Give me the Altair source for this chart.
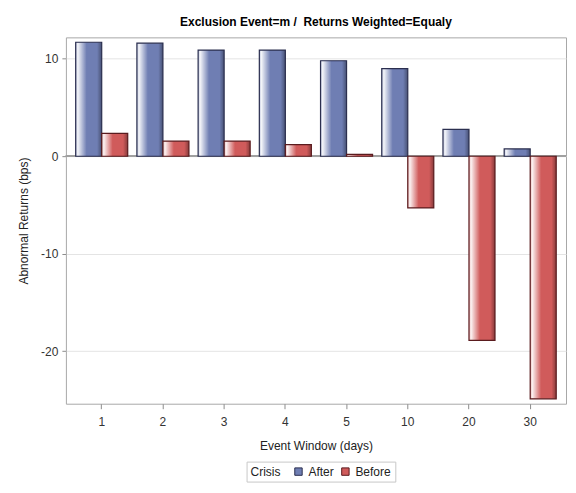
import altair as alt
import pandas as pd

janelas = ["1", "2", "3", "4", "5", "10", "20", "30"]
depois = [11.7, 11.6, 10.9, 10.9, 9.8, 9.0, 2.75, 0.75]
antes = [2.35, 1.55, 1.55, 1.2, 0.2, -5.3, -18.9, -24.9]
crises = ["After", "Before"]
cores = ["#6F7EB3", "#D05B5B"]
bordas = ["#2B2F4F", "#5A1B1E"]

df = pd.DataFrame({
    "Janela": janelas * 2,
    "Crisis": ["After"] * len(janelas) + ["Before"] * len(janelas),
    "Retorno": depois + antes,
})

fonte = "Liberation Sans"
largura, altura = 501, 367

# brilho branco a esquerda e sombra a direita, por cima da cor de cada barra
brilho = alt.Gradient(
    gradient="linear", x1=0, x2=1, y1=0, y2=0,
    stops=[
        alt.GradientStop(offset=0, color="rgba(255,255,255,0.55)"),
        alt.GradientStop(offset=0.08, color="rgba(255,255,255,0.92)"),
        alt.GradientStop(offset=0.42, color="rgba(255,255,255,0)"),
        alt.GradientStop(offset=0.82, color="rgba(0,0,0,0)"),
        alt.GradientStop(offset=1, color="rgba(0,0,0,0.35)"),
    ])

base = alt.Chart(df).encode(
    x=alt.X("Janela:N", sort=janelas, title="Event Window (days)",
            scale=alt.Scale(paddingInner=0.15, paddingOuter=0.16),
            axis=alt.Axis(labelAngle=0, domain=False, tickSize=5, labelPadding=8,
                          titleX=largura / 2, titleY=42, titleBaseline="middle")),
    xOffset=alt.XOffset("Crisis:N", sort=crises,
                        scale=alt.Scale(paddingInner=0, paddingOuter=0)),
    y=alt.Y("Retorno:Q", title="Abnormal Returns (bps)",
            scale=alt.Scale(domain=[-25.4, 12.2], nice=False, zero=False),
            axis=alt.Axis(values=[-20, -10, 0, 10], labelExpr="'' + datum.value",
                          domain=False, tickSize=4, labelPadding=4,
                          gridColor="#e4e4e4", titleX=-42, titleY=altura / 2,
                          titleBaseline="middle")),
)

zero = alt.Chart(df).mark_rule(color="#a0a0a0", strokeWidth=1).encode(y=alt.datum(0))

barras = base.mark_bar().encode(
    color=alt.Color("Crisis:N", scale=alt.Scale(domain=crises, range=cores),
                    legend=alt.Legend(orient="none", legendX=181, legendY=425,
                                      direction="horizontal", titleOrient="left",
                                      symbolType="square", symbolSize=55,
                                      symbolStrokeColor="#333333", symbolStrokeWidth=1,
                                      strokeColor="#c8c8c8", padding=4, fillColor="white",
                                      titleFontWeight="normal", titleFontSize=12,
                                      titleFont=fonte, labelFont=fonte,
                                      labelFontSize=12, titlePadding=12, columnPadding=5,
                                      labelOffset=4, labelColor="#222222",
                                      titleColor="#222222")))

relevo = base.mark_bar(fill=brilho, strokeWidth=1.2).encode(
    stroke=alt.Stroke("Crisis:N", scale=alt.Scale(domain=crises, range=bordas), legend=None))

chart = (alt.layer(zero, barras, relevo)
         .properties(width=largura, height=altura,
                     title=alt.Title("Exclusion Event=m /\u00a0 Returns Weighted=Equaly",
                                     font=fonte, fontSize=12, fontWeight="bold",
                                     color="#000000", anchor="middle", offset=8),
                     autosize=alt.AutoSizeParams(type="none"),
                     padding={"left": 58, "top": 29, "right": 2, "bottom": 80})
         .configure_view(stroke="#a8a8a8", strokeWidth=1)
         .configure_axis(labelFont=fonte, labelFontSize=12, labelColor="#333333",
                         titleFont=fonte, titleFontSize=12, titleFontWeight="normal",
                         titleColor="#222222", tickColor="#8c8c8c", grid=False)
         .configure_axisY(grid=True)
         )

chart.save("out.html", embed_options={"renderer": "svg", "actions": False})
